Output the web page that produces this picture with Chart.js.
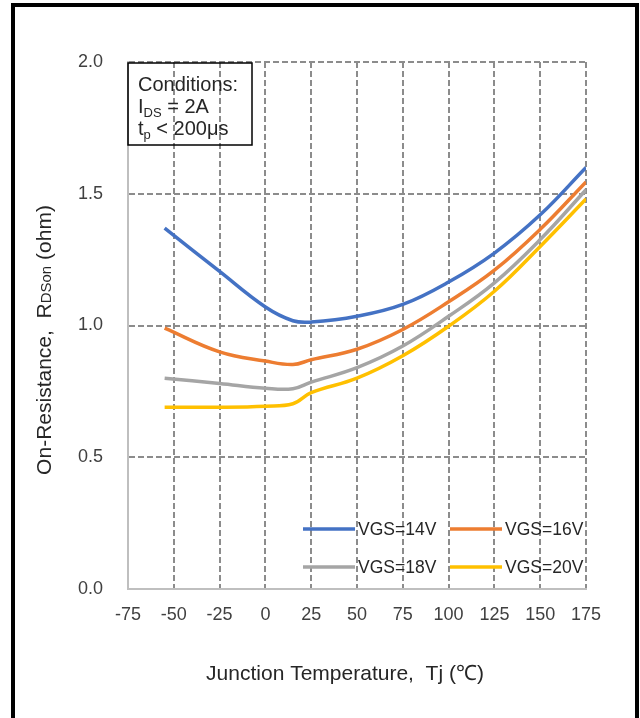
<!DOCTYPE html>
<html>
<head>
<meta charset="utf-8">
<script src="https://cdn.jsdelivr.net/npm/chart.js@4/dist/chart.umd.min.js"></script>
<style>
  body { margin: 0; background: #fff; overflow: hidden; }
  #wrap { position: relative; width: 640px; height: 718px; overflow: hidden; }
  #frame { position: absolute; left: 11px; top: 3px; width: 620px; height: 800px; border: 4px solid #000; }
  canvas { position: absolute; left: 0; top: 0; }
</style>
</head>
<body>
<div id="wrap">
  <canvas id="canvas" width="640" height="718"></canvas>
  <div id="frame"></div>
</div>
<script>
// junction temperature (°C)
const temps = [-55, -25, 0, 15, 25, 50, 75, 100, 125, 150, 175]
// RDS(on) in ohm
const vgs14 = [1.37, 1.205, 1.07, 1.018, 1.013, 1.035, 1.08, 1.165, 1.275, 1.42, 1.60]
const vgs16 = [0.99, 0.90, 0.865, 0.852, 0.87, 0.91, 0.985, 1.09, 1.21, 1.365, 1.545]
const vgs18 = [0.80, 0.78, 0.762, 0.76, 0.785, 0.84, 0.922, 1.035, 1.162, 1.326, 1.515]
const vgs20 = [0.69, 0.69, 0.694, 0.703, 0.745, 0.80, 0.885, 0.997, 1.13, 1.30, 1.48]

const seriesLabels = ['VGS=14V', 'VGS=16V', 'VGS=18V', 'VGS=20V']
const seriesColors = ['#4472C4', '#ED7D31', '#A5A5A5', '#FFC000']
const seriesValues = [vgs14, vgs16, vgs18, vgs20]

const xTitle = 'Junction Temperature,  Tj (\u2103)'
const FONT = "'Liberation Sans', Arial, sans-serif"
const GRID = '#8c8c8c'

const toPoints = vals => temps.map((t, i) => ({x: t, y: vals[i]}))

const data = {
    datasets: seriesValues.map((vals, i) => ({
        label: seriesLabels[i],
        data: toPoints(vals),
        borderColor: seriesColors[i],
        backgroundColor: seriesColors[i],
        borderWidth: 3.5,
        pointRadius: 0,
        tension: 0.4,
        fill: false,
    })),
}

// titles, conditions box and legend drawn on the canvas
const decor = {
    id: 'decor',
    afterDraw(chart) {
        const ctx = chart.ctx
        const a = chart.chartArea
        ctx.save()
        ctx.fillStyle = '#262626'
        ctx.textBaseline = 'alphabetic'

        // x title
        ctx.font = '21px ' + FONT
        ctx.textAlign = 'center'
        ctx.fillText(xTitle, a.left + 217, 680)

        // y title with subscript part
        ctx.save()
        ctx.translate(51, a.top + 278)
        ctx.rotate(-Math.PI / 2)
        const parts = [['On-Resistance,  R', 21], ['DSon', 15], [' (ohm)', 21]]
        let total = 0
        parts.forEach(p => { ctx.font = p[1] + 'px ' + FONT; total += ctx.measureText(p[0]).width })
        let px = -total / 2
        ctx.textAlign = 'left'
        parts.forEach(p => {
            ctx.font = p[1] + 'px ' + FONT
            ctx.fillText(p[0], px, 0)
            px += ctx.measureText(p[0]).width
        })
        ctx.restore()

        // conditions box
        ctx.strokeStyle = '#000'
        ctx.lineWidth = 1.5
        ctx.strokeRect(a.left, a.top + 1, 124, 82)
        ctx.textAlign = 'left'
        const lines = [
            [['Conditions:', 20, 0]],
            [['I', 20, 0], ['DS', 13, 4], [' = 2A', 20, 0]],
            [['t', 20, 0], ['p', 13, 4], [' < 200\u03bcs', 20, 0]],
        ]
        lines.forEach((ln, r) => {
            let lx = a.left + 10
            const by = a.top + 29 + r * 22
            ln.forEach(seg => {
                ctx.font = seg[1] + 'px ' + FONT
                ctx.fillText(seg[0], lx, by + seg[2])
                lx += ctx.measureText(seg[0]).width
            })
        })

        // legend, 2 x 2, inside plot area
        ctx.font = '17.5px ' + FONT
        ctx.textBaseline = 'middle'
        ctx.lineWidth = 3.5
        seriesLabels.forEach((lab, i) => {
            const col = i % 2, row = Math.floor(i / 2)
            const x0 = a.left + 175 + col * 147
            const y0 = a.top + 467 + row * 38
            ctx.strokeStyle = seriesColors[i]
            ctx.beginPath()
            ctx.moveTo(x0, y0)
            ctx.lineTo(x0 + 52, y0)
            ctx.stroke()
            ctx.fillStyle = '#262626'
            ctx.fillText(lab, x0 + 55, y0 + 1)
        })
        ctx.restore()
    },
}

const config = {
    type: 'line',
    data: data,
    options: {
        responsive: false,
        animation: false,
        layout: {padding: {top: 62, right: 54, bottom: 0, left: 0}},
        plugins: {legend: {display: false}, tooltip: {enabled: false}},
        scales: {
            x: {
                type: 'linear',
                min: -75,
                max: 175,
                afterFit: s => { s.height = 129 },
                ticks: {stepSize: 25, padding: 15, color: '#404040', font: {size: 18, family: FONT}},
                grid: {
                    drawTicks: false,
                    lineWidth: 2,
                    color: c => (c.tick && c.tick.value === -75) ? 'rgba(0,0,0,0)' : GRID,
                },
                border: {display: true, color: '#bfbfbf', width: 2, dash: [6, 3]},
            },
            y: {
                min: 0,
                max: 2,
                afterFit: s => { s.width = 128 },
                ticks: {
                    stepSize: 0.5,
                    padding: 25,
                    color: '#404040',
                    font: {size: 18, family: FONT},
                    callback: v => v.toFixed(1),
                },
                grid: {
                    drawTicks: false,
                    lineWidth: 2,
                    color: c => (c.tick && c.tick.value === 0) ? 'rgba(0,0,0,0)' : GRID,
                },
                border: {display: true, color: '#bfbfbf', width: 2, dash: [6, 3]},
            },
        },
    },
    plugins: [decor],
}
const canvas = document.getElementById('canvas')
const chart = new Chart(canvas, config)
</script>
</body>
</html>
